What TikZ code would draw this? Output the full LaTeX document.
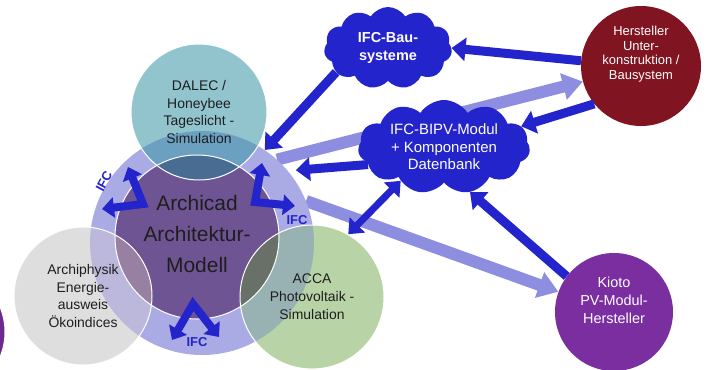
\documentclass[tikz,border=0pt]{standalone}
\usepackage{fontspec}
\setmainfont{Liberation Sans}
\usepackage{tikz}
\usetikzlibrary{positioning,arrows.meta,shapes.symbols,calc,backgrounds}
\definecolor{ringlav}{RGB}{170,170,228}
\definecolor{archpurple}{RGB}{110,84,146}
\definecolor{dalecA}{RGB}{146,196,206}
\definecolor{dalecB}{RGB}{108,160,192}
\definecolor{dalecC}{RGB}{72,108,146}
\definecolor{grayA}{RGB}{222,222,222}
\definecolor{grayB}{RGB}{188,184,220}
\definecolor{grayC}{RGB}{152,128,162}
\definecolor{accaA}{RGB}{184,212,166}
\definecolor{accaB}{RGB}{152,178,180}
\definecolor{accaC}{RGB}{104,112,104}
\definecolor{ifcblue}{RGB}{36,36,204}
\definecolor{lightarr}{RGB}{142,142,224}
\definecolor{hstred}{RGB}{128,20,32}
\definecolor{kiopurple}{RGB}{122,46,160}
\definecolor{txtdark}{RGB}{30,30,30}
\tikzset{
  core/.style={circle, inner sep=0pt},
  sat/.style={circle, draw=white, line width=1pt, inner sep=0pt, align=center, text=txtdark, font=\fontsize{14}{18}\selectfont},
  lbl/.style={align=center, inner sep=0pt},
  cloudbox/.style={cloud, cloud puffs=11, cloud puff arc=115, cloud ignores aspect, fill=ifcblue, text=white, align=center, inner sep=0pt},
  arr/.style={-{Triangle[length=14bp,width=23bp]}, line width=9bp, draw=ifcblue},
  darr/.style={{Triangle[length=13bp,width=21bp]}-{Triangle[length=13bp,width=21bp]}, line width=7bp, draw=ifcblue},
  ifcarr/.style={{Triangle[length=12bp,width=20bp]}-{Triangle[length=12bp,width=20bp]}, line width=8bp, draw=ifcblue},
  larr/.style={-{Triangle[length=20bp,width=26bp]}, line width=12bp, draw=lightarr},
  ifctxt/.style={text=ifcblue, font=\bfseries\fontsize{13}{13}\selectfont, inner sep=0pt},
}

\begin{document}
\begin{tikzpicture}[x=1bp, y=-1bp]
  \useasboundingbox (0,0) rectangle (708,369);
  % core model
  \node[core, fill=kiopurple!90!black, draw=white, line width=1pt, minimum size=130bp] (edge) at (-60,332) {};
  \node[core, fill=ringlav, minimum size=224bp] (ring) at (202,243) {};
  \node[core, fill=archpurple, draw=white, line width=1pt, minimum size=164bp] (arch) at (197,237) {};
  % tools round the model, overlaps coloured by hand
  \foreach \x/\y/\r/\ca/\cb/\cc in {199/112/68/dalecA/dalecB/dalecC, 83/296/69/grayA/grayB/grayC, 312/297/72/accaA/accaB/accaC}{
    \fill[\ca] (\x,\y) circle[radius=\r];
    \begin{scope}
      \clip (\x,\y) circle[radius=\r];
      \fill[\cb] (ring.center) circle[radius=112];
      \fill[\cc] (arch.center) circle[radius=82];
      \draw[white, line width=1pt] (arch.center) circle[radius=82];
    \end{scope}
  }
  \node[sat, minimum size=136bp] (dalec) at (199,112) {DALEC /\\Honeybee\\Tageslicht -\\Simulation};
  \node[sat, minimum size=138bp] (phys) at (83,296) {Archiphysik\\Energie-\\ausweis\\Ökoindices};
  \node[sat, minimum size=144bp] (acca) at (312,297) {ACCA\\Photovoltaik -\\Simulation};
  \node[lbl, text=txtdark, font=\fontsize{21}{31}\selectfont] (archtxt) at ([yshift=3bp]arch.center) {Archicad\\Architektur-\\Modell};
  % IFC exchange inside the ring
  \draw[ifcarr] (128,167) -- (143,204) -- (102,209);
  \draw[ifcarr] (262,163) -- (255,202) -- (295,206);
  \draw[ifcarr] (172,340) -- (193,304) -- (219,337);
  \node[ifctxt, rotate=62] (ifcA) at (104,181) {IFC};
  \node[ifctxt] (ifcB) at (297,220) {IFC};
  \node[ifctxt] (ifcC) at (197,342) {IFC};
  % producers and data bases
  \node[core, fill=hstred, minimum size=120bp] (hst) at (641,66) {};
  \node[lbl, text=white, font=\fontsize{13}{14.5}\selectfont] (hsttxt) at ([yshift=12bp]hst.center) {Hersteller\\Unter-\\konstruktion /\\Bausystem};
  \node[core, fill=kiopurple, minimum size=118bp] (kio) at (614,312) {};
  \node[lbl, text=white, font=\fontsize{14.5}{18}\selectfont] (kiotxt) at ([yshift=12bp]kio.center) {Kioto\\PV-Modul-\\Hersteller};
  \node[cloudbox, minimum width=128bp, minimum height=82bp, font=\bfseries\fontsize{14.5}{18}\selectfont] (bau) at (388,48) {IFC-Bau-\\systeme};
  \node[cloudbox, minimum width=172bp, minimum height=94bp, font=\fontsize{15}{17.5}\selectfont] (bipv) at (444,147) {IFC-BIPV-Modul\\+ Komponenten\\Datenbank};
  % data flow
  \begin{scope}[on background layer]
    \draw[larr] (ring.48) -- (hst.195);
    \draw[larr] (ring.22) -- (kio.160);
  \end{scope}
  \draw[arr] (hst.175) -- (bau.east);
  \draw[arr] (hst.219) -- (bipv.15);
  \draw[arr] (bau.205) -- (ring.56);
  \draw[arr, shorten >=8bp] (bipv.193) -- (ring.40);
  \draw[darr] (bipv.218) -- (acca.60);
  \draw[arr] (kio.143) -- (bipv.300);
\end{tikzpicture}
\end{document}
